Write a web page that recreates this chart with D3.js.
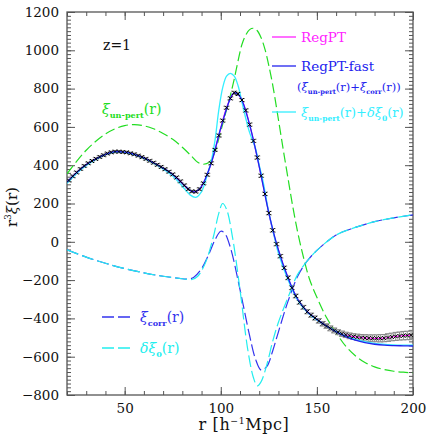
<!DOCTYPE html>
<html><head><meta charset="utf-8">
<script src="https://cdn.jsdelivr.net/npm/d3@7"></script>
<style>body{margin:0;background:#fff} svg{display:block} text{font-family:"DejaVu Serif",serif}</style>
</head><body><svg id="c" width="436" height="436"></svg>
<script>
// ---------- data ----------
const xTicksMajor = [50, 100, 150, 200];
const yTicksMajor = [-800, -600, -400, -200, 0, 200, 400, 600, 800, 1000, 1200];

// xi_un-pert (green dashed)
const greenR = [20,25,30,35,40,45,50,55,60,65,70,75,80,85,88,91,94,97,99,101,103,105,107,109,111,113,115,117,119,121,123,125,127,129,131,133,135,137,140,143,146,150,155,160,165,170,175,180,185,190,195,200];
const greenV = [355,420,478,525,563,590,607,612,606,590,566,535,494,445,415,405,415,470,540,615,690,765,850,945,1030,1080,1108,1115,1102,1065,1005,920,820,700,575,450,330,210,50,-80,-190,-290,-395,-475,-545,-595,-630,-653,-667,-676,-681,-684];

// RegPT-fast (blue solid)
const fastR = [20,25,30,35,40,45,50,55,60,65,70,75,80,85,87,90,95,100,105,107,110,115,120,125,130,135,140,145,150,155,160,165,170,175,180,185,190,195,200];
const fastV = [312,362,403,433,457,471,468,457,438,413,385,352,305,263,262,290,410,594,749,778,758,612,393,150,-43,-188,-300,-365,-405,-440,-470,-495,-514,-527,-535,-540,-542,-543,-544];

// xi_un-pert + delta xi_0 (cyan solid)
const cyanR = [20,25,30,35,40,45,50,55,60,65,70,75,80,84,87,90,93,95,97,99,101,103,105,107,109,111,113,115,118,120,122,125,128,130,135,140,145,150,160,170,180,190,200];
const cyanV = [305,357,398,430,455,468,467,455,435,410,380,343,290,245,232,262,350,420,530,690,805,865,880,865,815,730,645,570,490,400,316,152,20,-60,-200,-305,-368,-408,-468,-510,-530,-538,-540];

// xi_corr (blue dashed)
const corrR = [20,30,40,50,60,70,80,83,86,90,94,97,100,102,105,110,115,118,121,124,127,130,135,140,145,150,160,170,180,190,200];
const corrV = [-42,-80,-112,-140,-162,-180,-193,-195,-185,-140,-60,10,55,45,-30,-250,-490,-610,-670,-650,-570,-470,-310,-180,-100,-45,35,75,105,125,141];

// delta xi_0 (cyan dashed)
const d0R = [20,30,40,50,60,70,80,85,88,92,96,99,101,103,106,110,114,117,119,121,124,127,130,135,140,145,150,160,170,180,190,200];
const d0V = [-42,-80,-112,-140,-162,-180,-193,-197,-180,-110,20,150,200,170,30,-250,-560,-710,-752,-730,-640,-520,-420,-290,-170,-100,-45,35,75,105,125,141];

// RegPT (points with error bars, magenta line)
const ptR = [21,23,25,27,29,31,33,35,37,39,41,43,45,47,49,51,53,55,57,59,61,63,65,67,69,71,73,75,77,79,81,83,85,87,89,91,93,95,97,99,101,103,105,107,109,111,113,115,117,119,121,123,125,127,129,131,133,135,137,139,141,143,145,147,149,151,153,155,157,159,161,163,165,167,169,171,173,175,177,179,181,183,185,187,189,191,193,195,197,199];
const ptV = [320,342,362,380,396,410,422,433,443,452,461,467,471,471,469,467,462,457,450,442,433,423,413,402,391,379,366,352,336,316,295,275,263,262,275,305,350,410,480,555,633,700,749,778,772,740,686,612,527,440,345,250,150,60,-12,-75,-136,-188,-240,-283,-316,-342,-365,-383,-398,-413,-428,-440,-452,-463,-472,-480,-486,-491,-495,-498,-500,-502,-503,-504,-504,-504,-503,-500,-497,-494,-492,-490,-489,-488];
const ptErr = [6,6,6,6,6,6,6,6,6,6,6,6,6,6,6,6,6,6,6,6,6,6,6,6,6,6,6,6,6,6,6,6,6,6,6,6,7,7,7,7,7,7,7,8,8,8,8,8,8,8,8,9,9,9,9,9,9,10,10,10,10,10,11,11,11,12,12,12,13,13,13,14,14,15,15,16,16,17,17,18,18,19,19,20,20,21,21,22,22,23];

// ---------- drawing ----------
const svg = d3.select("#c");
const L = 67, R = 413, T = 12, B = 395;
const x = d3.scaleLinear().domain([20, 200]).range([L, R]);
const y = d3.scaleLinear().domain([-800, 1200]).range([B, T]);
const tickCol = "#555";

svg.append("defs").append("clipPath").attr("id", "clip")
  .append("rect").attr("x", L).attr("y", T).attr("width", R - L).attr("height", B - T);

function styleAxis(g) {
  g.select(".domain").remove();
  g.selectAll("line").attr("stroke", tickCol).attr("stroke-width", 1);
  g.selectAll("text").attr("fill", "#111").style("font-family", '"DejaVu Serif",serif').style("font-size", "13.5px");
}
const minorX = d3.range(20, 201, 10), minorY = d3.range(-800, 1201, 20);
svg.append("g").attr("transform", `translate(0,${B})`).call(d3.axisBottom(x).tickValues(minorX).tickSize(-4).tickFormat("")).call(styleAxis);
svg.append("g").attr("transform", `translate(0,${B})`).call(d3.axisBottom(x).tickValues(xTicksMajor).tickSize(-8).tickPadding(8).tickFormat(d3.format("d"))).call(styleAxis);
svg.append("g").attr("transform", `translate(0,${T})`).call(d3.axisTop(x).tickValues(minorX).tickSize(-4).tickFormat("")).call(styleAxis);
svg.append("g").attr("transform", `translate(0,${T})`).call(d3.axisTop(x).tickValues(xTicksMajor).tickSize(-8).tickFormat("")).call(styleAxis);
svg.append("g").attr("transform", `translate(${L},0)`).call(d3.axisLeft(y).tickValues(minorY).tickSize(-4).tickFormat("")).call(styleAxis);
svg.append("g").attr("transform", `translate(${L},0)`).call(d3.axisLeft(y).tickValues(yTicksMajor).tickSize(-8).tickPadding(8).tickFormat(d3.format("d"))).call(styleAxis);
svg.append("g").attr("transform", `translate(${R},0)`).call(d3.axisRight(y).tickValues(minorY).tickSize(-4).tickFormat("")).call(styleAxis);
svg.append("g").attr("transform", `translate(${R},0)`).call(d3.axisRight(y).tickValues(yTicksMajor).tickSize(-8).tickFormat("")).call(styleAxis);

svg.append("rect").attr("x", L).attr("y", T).attr("width", R - L).attr("height", B - T)
  .attr("fill", "none").attr("stroke", tickCol).attr("stroke-width", 1.3);

const plot = svg.append("g").attr("clip-path", "url(#clip)");
function curve(rs, vs, color, dash, w) {
  const line = d3.line().x(d => x(d[0])).y(d => y(d[1])).curve(d3.curveCatmullRom.alpha(0.5));
  plot.append("path").datum(rs.map((r, i) => [r, vs[i]]))
    .attr("d", line).attr("fill", "none").attr("stroke", color)
    .attr("stroke-width", w || 1.2).attr("stroke-dasharray", dash || null);
}
curve(greenR, greenV, "#22dd22", "10,4");
curve(corrR, corrV, "#3333ee", "12,4");
curve(d0R, d0V, "#22eeee", "12,4");
curve(ptR, ptV, "#ff22ff", null, 1.2);
const eb = plot.append("g").attr("stroke", "#888").attr("stroke-width", 1);
ptR.forEach((r, i) => {
  const cx = x(r), y1 = y(ptV[i] - ptErr[i]), y2 = y(ptV[i] + ptErr[i]);
  eb.append("line").attr("x1", cx).attr("x2", cx).attr("y1", y1).attr("y2", y2);
  eb.append("line").attr("x1", cx - 3).attr("x2", cx + 3).attr("y1", y1).attr("y2", y1);
  eb.append("line").attr("x1", cx - 3).attr("x2", cx + 3).attr("y1", y2).attr("y2", y2);
});
curve(cyanR, cyanV, "#33eeff", null, 1.3);
curve(fastR, fastV, "#2222ee", null, 1.3);
const mk = plot.append("g").attr("stroke", "#000").attr("stroke-width", 1);
ptR.forEach((r, i) => {
  const cx = x(r), cy = y(ptV[i]), s = 2;
  mk.append("line").attr("x1", cx - s).attr("x2", cx + s).attr("y1", cy - s).attr("y2", cy + s);
  mk.append("line").attr("x1", cx - s).attr("x2", cx + s).attr("y1", cy + s).attr("y2", cy - s);
});

// ---------- rich text helper ----------
function rich(px, py, parts, color, size, anchor, rot, ls) {
  const t = svg.append("text").attr("x", px).attr("y", py).attr("fill", color)
    .style("font-size", size + "px").attr("text-anchor", anchor || "start");
  if (ls) t.style("letter-spacing", ls + "px");
  if (rot) t.attr("transform", `rotate(${rot},${px},${py})`);
  let shift = 0;
  parts.forEach(p => {
    const target = p.sub ? size * 0.3 : p.sup ? -size * 0.4 : 0;
    const s = t.append("tspan").text(p.t).attr("dy", target - shift);
    shift = target;
    if (p.sub || p.sup) s.style("font-size", (size * 0.58) + "px");
    if (p.sub) s.style("font-weight", "bold");
    if (p.it) s.style("font-style", "italic");
  });
  return t;
}
const xi = {t: "ξ", it: true};
rich(103, 50, [{t: "z=1"}], "#111", 14);
rich(102, 114, [xi, {t: "un-pert", sub: true}, {t: "(r)"}], "#22dd22", 14);
function legLine(x1, x2, yy, col, dash) {
  svg.append("line").attr("x1", x1).attr("x2", x2).attr("y1", yy).attr("y2", yy)
    .attr("stroke", col).attr("stroke-width", 1.3).attr("stroke-dasharray", dash || null);
}
legLine(272, 296, 37, "#ff22ff");
rich(301, 42, [{t: "RegPT"}], "#ff22ff", 13.5);
legLine(272, 296, 66, "#2222ee");
rich(301, 71, [{t: "RegPT-fast"}], "#2222ee", 13.5);
rich(297, 91, [{t: "("}, xi, {t: "un-pert", sub: true}, {t: "(r)+"}, xi, {t: "corr", sub: true}, {t: "(r))"}], "#2222ee", 11.5);
legLine(272, 296, 112, "#33eeff");
rich(301, 117, [xi, {t: "un-pert", sub: true}, {t: "(r)+"}, {t: "δ", it: true}, xi, {t: "0", sub: true}, {t: "(r)"}], "#33eeff", 13);
legLine(102, 134, 317, "#3333ee", "12,4");
rich(140, 322, [xi, {t: "corr", sub: true}, {t: "(r)"}], "#3333ee", 14);
legLine(102, 134, 348, "#22eeee", "12,4");
rich(140, 353, [{t: "δ", it: true}, xi, {t: "0", sub: true}, {t: "(r)"}], "#22eeee", 14);
rich(244, 430, [{t: "r [h"}, {t: "−1", sup: true}, {t: "Mpc]"}], "#111", 16, "middle", 0, 0.6);
rich(17, 207, [{t: "r"}, {t: "3", sup: true}, xi, {t: "(r)"}], "#111", 15, "middle", -90);
</script></body></html>
